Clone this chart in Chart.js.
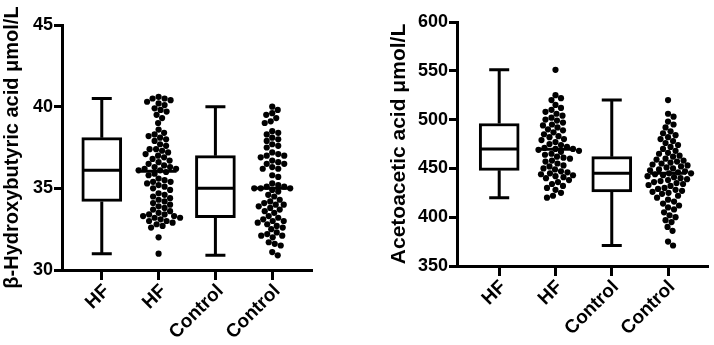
<!DOCTYPE html>
<html><head><meta charset="utf-8">
<script src="https://cdn.jsdelivr.net/npm/chart.js@4.4.1/dist/chart.umd.min.js"></script>
<style>
html,body{margin:0;padding:0;background:#fff;}
#wrap{position:relative;width:714px;height:345px;overflow:hidden;background:#fff;}
canvas{position:absolute;top:0;}
#c1{left:0px;} #c2{left:357px;}
</style></head><body>
<div id="wrap"><canvas id="c1" width="357" height="345"></canvas><canvas id="c2" width="357" height="345"></canvas></div>
<script>
// ---- data ----
const categories = ['HF', 'HF', 'Control', 'Control'];

const bhbHF = [40.6, 40.5, 40.5, 40.4, 40.3, 40.2, 40.1, 39.9, 39.8, 39.7,
  39.5, 39.3, 39.0, 38.6, 38.4, 38.3, 38.2, 38.1, 38.0, 37.9,
  37.7, 37.6, 37.4, 37.4, 37.3, 37.2, 37.1, 37.0, 36.9, 36.8,
  36.7, 36.6, 36.5, 36.4, 36.3, 36.3, 36.2, 36.2, 36.1, 36.1,
  36.0, 35.9, 35.8, 35.6, 35.5, 35.4, 35.4, 35.3, 35.2, 35.1,
  35.0, 34.9, 34.7, 34.6, 34.5, 34.4, 34.3, 34.2, 34.1, 34.0,
  33.9, 33.8, 33.7, 33.6, 33.5, 33.4, 33.4, 33.3, 33.3, 33.2,
  33.2, 33.1, 33.0, 33.0, 32.9, 32.8, 32.7, 32.6, 32.0, 31.0];

const bhbControl = [40.0, 39.8, 39.6, 39.5, 39.3, 39.1, 39.0, 38.5, 38.4, 38.3,
  38.1, 38.0, 37.9, 37.7, 37.6, 37.5, 37.2, 37.1, 37.0, 37.0,
  36.9, 36.7, 36.6, 36.5, 36.5, 36.3, 36.2, 36.2, 35.8, 35.7,
  35.3, 35.2, 35.1, 35.1, 35.0, 35.0, 35.0, 34.9, 34.8, 34.6,
  34.5, 34.3, 34.2, 34.1, 34.0, 34.0, 33.9, 33.8, 33.7, 33.6,
  33.5, 33.3, 33.2, 33.1, 33.0, 33.0, 32.9, 32.8, 32.7, 32.6,
  32.5, 32.3, 32.2, 32.1, 32.1, 32.0, 31.7, 31.6, 31.5, 31.1, 30.9];

const acacHF = [551, 525, 522, 520, 515, 512, 510, 508, 506, 504,
  502, 500, 499, 497, 495, 494, 492, 490, 489, 487,
  485, 483, 482, 480, 479, 477, 475, 474, 472, 471,
  470, 470, 469, 468, 467, 465, 464, 462, 461, 460,
  458, 457, 455, 453, 452, 450, 449, 447, 446, 445,
  444, 443, 442, 441, 440, 438, 436, 434, 432, 430,
  428, 425, 422, 420];

const acacControl = [520, 506, 503, 498, 495, 492, 488, 486, 484, 482,
  480, 478, 476, 474, 472, 470, 468, 466, 465, 463,
  462, 460, 459, 458, 457, 456, 455, 454, 453, 452,
  451, 450, 449, 448, 447, 446, 445, 445, 444, 443,
  442, 441, 440, 439, 438, 437, 436, 435, 434, 433,
  432, 430, 429, 428, 427, 426, 425, 424, 422, 420,
  418, 416, 414, 412, 410, 408, 405, 402, 400, 397,
  395, 390, 386, 375, 371];

// box stats: [min, Q1, median, Q3, max]
const bhbBoxHF = [31.0, 34.2, 36.1, 38.1, 40.5];
const bhbBoxControl = [30.9, 33.2, 35.0, 37.0, 40.0];
const acacBoxHF = [420, 448, 470, 496, 551];
const acacBoxControl = [371, 426, 445, 462, 520];

const bhbTicks = [30, 35, 40, 45];
const acacTicks = [350, 400, 450, 500, 550, 600];

// ---- drawing ----
Chart.defaults.font.family = "'Liberation Sans', Arial, Helvetica, sans-serif";
Chart.defaults.font.weight = 'bold';
Chart.defaults.color = '#000';

function median(a) {
  const s = [...a].sort((p, q) => p - q), n = s.length;
  return n % 2 ? s[(n - 1) / 2] : (s[n / 2 - 1] + s[n / 2]) / 2;
}

const boxPartsPlugin = {
  id: 'boxParts',
  afterDatasetsDraw(chart, args, opts) {
    const { ctx, scales: { x, y } } = chart;
    ctx.save();
    ctx.strokeStyle = '#000';
    ctx.lineWidth = 3;
    ctx.lineCap = 'butt';
    ctx.beginPath();
    opts.boxes.forEach(b => {
      const cx = x.getPixelForValue(b.cat);
      const [mn, q1, md, q3, mx] = b.stats;
      const half = opts.boxHalf, cap = opts.capHalf;
      ctx.moveTo(cx, y.getPixelForValue(q3)); ctx.lineTo(cx, y.getPixelForValue(mx));
      ctx.moveTo(cx, y.getPixelForValue(q1)); ctx.lineTo(cx, y.getPixelForValue(mn));
      ctx.moveTo(cx - cap, y.getPixelForValue(mx)); ctx.lineTo(cx + cap, y.getPixelForValue(mx));
      ctx.moveTo(cx - cap, y.getPixelForValue(mn)); ctx.lineTo(cx + cap, y.getPixelForValue(mn));
      ctx.moveTo(cx - half, y.getPixelForValue(md)); ctx.lineTo(cx + half, y.getPixelForValue(md));
    });
    opts.swarms.forEach(s => {
      const cx = x.getPixelForValue(s.cat);
      const py = y.getPixelForValue(median(s.values));
      ctx.moveTo(cx - opts.lineHalf, py); ctx.lineTo(cx + opts.lineHalf, py);
    });
    ctx.stroke();
    ctx.restore();
  }
};

function swarmData(chart, values, cat) {
  const xs = chart.scales.x, ys = chart.scales.y;
  const cx = xs.getPixelForValue(cat);
  const D = 6.2;
  const placed = [];
  const pts = values.map(v => ({ v, py: ys.getPixelForValue(v), off: 0 }));
  const order = pts.slice().sort((a, b) => a.py - b.py);
  order.forEach(p => {
    let off = 0;
    for (let k = 0; k < 400; k++) {
      const step = Math.ceil(k / 2) * 0.5;
      const cand = k % 2 ? step : -step;
      if (placed.every(q => (q.x - cand) ** 2 + (q.y - p.py) ** 2 >= D * D)) { off = cand; break; }
    }
    placed.push({ x: off, y: p.py });
    p.off = off;
  });
  return pts.map(p => ({ x: xs.getValueForPixel(cx + p.off), y: p.v }));
}

function makeChart(canvas, c) {
  const boxDs = (stats, cat) => ({
    type: 'bar',
    data: [{ x: cat, y: [stats[1], stats[3]] }],
    backgroundColor: '#fff',
    borderColor: '#000',
    borderWidth: 3,
    borderSkipped: false,
    grouped: false,
    barThickness: 40
  });
  const dotDs = (vals, cat) => ({
    type: 'scatter',
    data: vals.map(v => ({ x: cat, y: v })),
    pointRadius: 3.1,
    pointBackgroundColor: '#000',
    pointBorderWidth: 0,
    showLine: false
  });
  const chart = new Chart(canvas, {
    type: 'scatter',
    data: {
      datasets: [
        boxDs(c.boxHF, 0), dotDs(c.hf, 1), boxDs(c.boxCtl, 2), dotDs(c.ctl, 3)
      ]
    },
    options: {
      responsive: false,
      devicePixelRatio: 1,
      animation: false,
      events: [],
      layout: { padding: c.padding },
      plugins: {
        legend: { display: false },
        tooltip: { enabled: false },
        boxParts: {
          boxHalf: 18.5, capHalf: 10, lineHalf: 18,
          boxes: [{ cat: 0, stats: c.boxHF }, { cat: 2, stats: c.boxCtl }],
          swarms: [{ cat: 1, values: c.hf }, { cat: 3, values: c.ctl }]
        }
      },
      scales: {
        x: {
          type: 'linear', position: 'bottom',
          offset: false,
          min: c.xMin, max: c.xMax,
          afterBuildTicks: s => { s.ticks = categories.map((_, i) => ({ value: i })); },
          afterFit: s => { s.height = c.xHeight; },
          ticks: {
            autoSkip: false, maxRotation: 45, minRotation: 45,
            font: { size: 19, weight: 'bold' }, color: '#000', padding: 0,
            labelOffset: c.labelOffset,
            callback: v => categories[v]
          },
          grid: { display: true, offset: false, drawOnChartArea: false, drawTicks: true, tickLength: 10, tickWidth: 3, tickColor: '#000' },
          border: { display: true, width: 3, color: '#000' }
        },
        y: {
          type: 'linear', position: 'left',
          min: c.yMin, max: c.yMax, beginAtZero: false,
          afterBuildTicks: s => { s.ticks = c.yTicks.map(v => ({ value: v })); },
          afterFit: s => { s.width = c.yWidth; },
          ticks: { font: { size: 18, weight: 'bold' }, color: '#000', padding: 1 },
          grid: { display: true, drawOnChartArea: false, drawTicks: true, tickLength: 8, tickWidth: 3, tickColor: '#000' },
          border: { display: true, width: 3, color: '#000' },
          title: {
            display: true, text: c.title, color: '#000',
            font: { size: c.titleSize, weight: 'bold' },
            padding: { top: c.titlePad, bottom: 0 }
          }
        }
      }
    },
    plugins: [boxPartsPlugin]
  });
  chart.data.datasets[1].data = swarmData(chart, c.hf, 1);
  chart.data.datasets[3].data = swarmData(chart, c.ctl, 3);
  chart.update('none');
  return chart;
}

makeChart(document.getElementById('c1'), {
  hf: bhbHF, ctl: bhbControl, boxHF: bhbBoxHF, boxCtl: bhbBoxControl,
  yMin: 30, yMax: 45, yTicks: bhbTicks,
  title: 'β-Hydroxybutyric acid μmol/L', titlePad: 0.5, titleSize: 20,
  yWidth: 62, xHeight: 75, xMin: -0.7, xMax: 3.7, labelOffset: 5,
  padding: { top: 25, right: 45, left: 0, bottom: 0 }
});

makeChart(document.getElementById('c2'), {
  hf: acacHF, ctl: acacControl, boxHF: acacBoxHF, boxCtl: acacBoxControl,
  yMin: 350, yMax: 600, yTicks: acacTicks,
  title: 'Acetoacetic acid μmol/L', titlePad: 30, titleSize: 21,
  yWidth: 100, xHeight: 79, xMin: -0.75, xMax: 3.71, labelOffset: 4,
  padding: { top: 22, right: 6, left: 0, bottom: 0 }
});
</script>
</body></html>
